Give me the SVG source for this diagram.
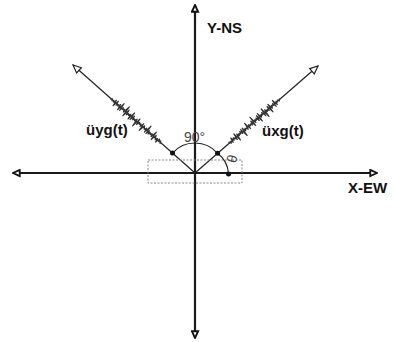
<svg xmlns="http://www.w3.org/2000/svg" xmlns:xlink="http://www.w3.org/1999/xlink" width="393" height="342" viewBox="0 0 393 342">
<style>
.axis{stroke:#1a1a1a;stroke-width:2.2;fill:none}
.diag{stroke:#222;stroke-width:1.2;fill:none}
.noise{stroke:#333;stroke-width:1.1;fill:none;stroke-linejoin:round}
.lbl{font-family:"Liberation Sans",Arial,sans-serif;font-weight:bold;font-size:15px;fill:#111}
.ang{font-family:"Liberation Sans",Arial,sans-serif;font-size:14px;fill:#444}
.arc{stroke:#222;stroke-width:1.2;fill:none}
.dot{fill:#111}
</style>
<defs>
<marker id="axArrow" viewBox="0 0 10 10" refX="9" refY="5" markerWidth="9" markerHeight="9" markerUnits="userSpaceOnUse" orient="auto-start-reverse">
<path d="M1.5,1.5 L9,5 L1.5,8.5 Z" fill="#fff" stroke="#111" stroke-width="2"/>
</marker>
<marker id="dArrow" viewBox="0 0 10 10" refX="9" refY="5" markerWidth="10" markerHeight="10" markerUnits="userSpaceOnUse" orient="auto">
<path d="M1,1.5 L9,5 L1,8.5 Z" fill="#fff" stroke="#222" stroke-width="1.2"/>
</marker>
<polyline id="noiseWave" class="noise" points="45,0 46,-1 47,1.5 48,-0.5 49,2 50,-3 51,1 52,-1.5 53,0.5 54,2.5 55,-4 56,5 57,-2 58,1 59,-1 60,0.5 61,-2 62,1.5 63,-3 64,6 65,-3 66,1.5 67,-1 68,0.5 69,2 70,-5 71,3 72,-1.5 73,1 74,-0.5 75,1.5 76,-2.5 77,4 78,-6 79,2 80,-1 81,0.5 82,-1.5 83,2.5 84,-3 85,5 86,-4 87,1.5 88,-1 89,0.5 90,-2 91,3.5 92,-5 93,6 94,-2 95,1 96,-0.5 97,1.5 98,-3 99,5 100,-4 101,2 102,-1 103,0.5 104,-1.5 105,3 106,-4 107,2.5 108,-1 109,0.5 110,-1 111,1 112,-0.5 113,0"/>
</defs>
<rect width="393" height="342" fill="#fff"/>
<g id="connectors">
<line class="axis" x1="13" y1="173" x2="377" y2="173" marker-start="url(#axArrow)" marker-end="url(#axArrow)"/>
<line class="axis" x1="195" y1="5" x2="195" y2="338" marker-start="url(#axArrow)" marker-end="url(#axArrow)"/>
<line class="diag" x1="195" y1="173" x2="73" y2="65" marker-end="url(#dArrow)"/>
<line class="diag" x1="195" y1="173" x2="318" y2="66" marker-end="url(#dArrow)"/>
</g>
<g id="signal-y">
<use xlink:href="#noiseWave" transform="translate(195,173) rotate(-138.5)"/>
</g>
<g id="signal-x">
<use xlink:href="#noiseWave" transform="translate(195,173) rotate(-41)"/>
</g>
<g id="dashed-box">
<rect x="148" y="160" width="94" height="23" fill="none" stroke="#888" stroke-width="1" stroke-dasharray="2 1.5"/>
</g>
<g id="angles">
<path class="arc" d="M172.5,153.1 A30,30 0 0 1 217.6,153.3"/>
<path class="arc" d="M217.6,153.3 A28,28 0 0 1 228.5,173.5"/>
<circle class="dot" cx="172.5" cy="153.1" r="2.5"/>
<circle class="dot" cx="217.6" cy="153.3" r="2.5"/>
<circle class="dot" cx="228.5" cy="174" r="2.5"/>
<text class="ang" x="184" y="142">90°</text>
<text class="ang" x="233" y="163" font-size="12" text-anchor="middle" transform="rotate(-75 233 159)">θ</text>
</g>
<g id="labels">
<text class="lbl" x="207" y="33">Y-NS</text>
<text class="lbl" x="348" y="193">X-EW</text>
<text class="lbl" x="86" y="135">üyg(t)</text>
<text class="lbl" x="262" y="136">üxg(t)</text>
</g>
</svg>
